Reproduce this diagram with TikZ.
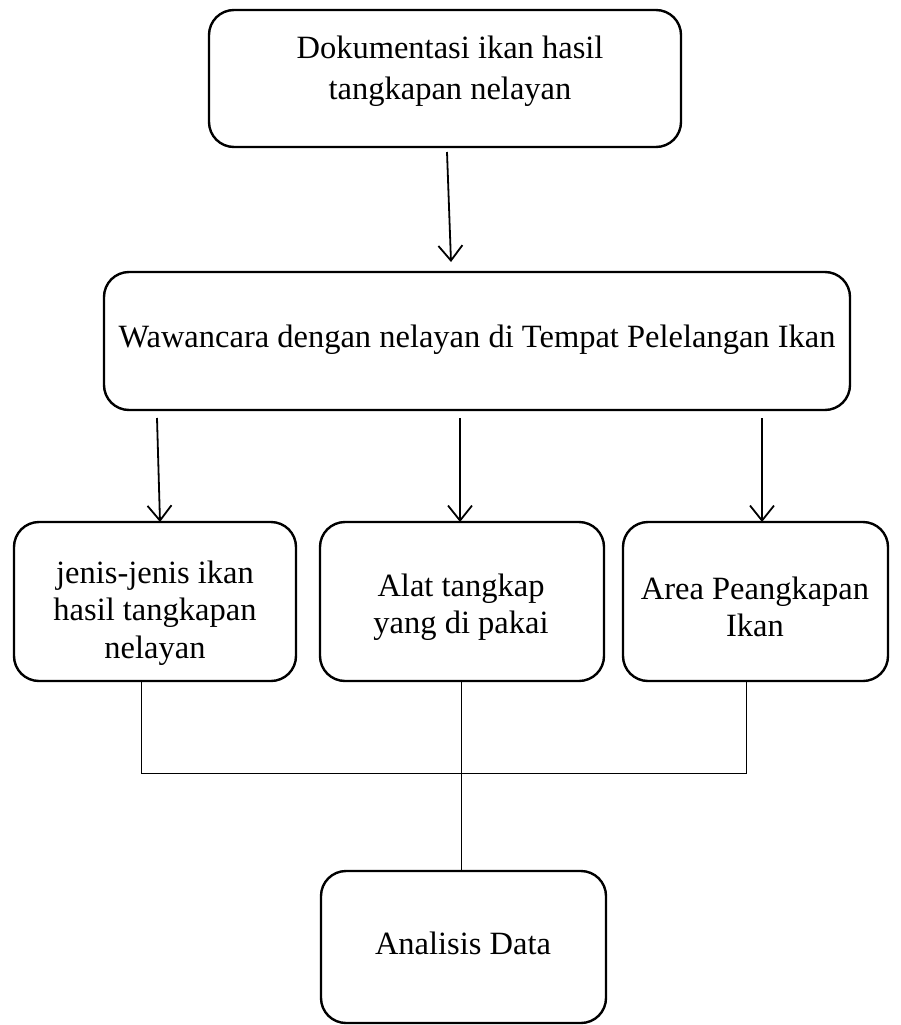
\documentclass[tikz,border=0pt]{standalone}
\usepackage{fontspec}
\setmainfont{Liberation Serif}
\usetikzlibrary{arrows.meta}
\begin{document}
\begin{tikzpicture}[x=1pt,y=-1pt,
  box/.style={draw=black,line width=2.4pt,rounded corners=25pt,inner sep=0pt},
  txt/.style={align=center,font=\fontsize{32.5}{37.5}\selectfont,inner sep=0pt},
  arr/.style={line width=1.8pt,-{Straight Barb[length=15pt,width=24pt,line width=1.8pt]}},
  conn/.style={line width=1pt}]
\useasboundingbox (0,0) rectangle (900,1025);
% boxes
\node[box,minimum width=472pt,minimum height=137pt] (top) at (445,78.5) {};
\node[txt] (toptext) at (450,71) {Dokumentasi ikan hasil\\[3pt]tangkapan nelayan};
\node[box,minimum width=746pt,minimum height=138pt] (mid) at (477,341) {};
\node[txt] (midtext) at (477,340) {Wawancara dengan nelayan di Tempat Pelelangan Ikan};
\node[box,minimum width=282pt,minimum height=159pt] (b1) at (155,601.5) {};
\node[txt] (b1text) at (155,613) {jenis-jenis ikan\\hasil tangkapan\\nelayan};
\node[box,minimum width=284pt,minimum height=159pt] (b2) at (462,601.5) {};
\node[txt] (b2text) at (461,607) {Alat tangkap\\yang di pakai};
\node[box,minimum width=265pt,minimum height=159pt] (b3) at (755.5,601.5) {};
\node[txt] (b3text) at (755,607) {Area Peangkapan\\Ikan};
\node[box,minimum width=285pt,minimum height=152pt] (ana) at (463.5,947) {};
\node[txt] (anatext) at (463,943) {Analisis Data};
% coordinates
\coordinate (a1s) at (447,152);
\coordinate (a1e) at (451,262);
\coordinate (m1) at (157,418);
\coordinate (m1e) at (160,522);
\coordinate (m2) at (460,418);
\coordinate (m2e) at (460,522);
\coordinate (m3) at (762,418);
\coordinate (m3e) at (762,522);
\coordinate (j1) at (141,773);
\coordinate (j3) at (746,773);
% arrows
\draw[arr] (a1s) -- (a1e);
\draw[arr] (m1) -- (m1e);
\draw[arr] (m2) -- (m2e);
\draw[arr] (m3) -- (m3e);
% connectors
\draw[conn] (b1.south -| j1) -- (j1) -- (j3) -- (b3.south -| j3);
\draw[conn] (b2.south -| 461,0) -- (ana.north -| 461,0);
\end{tikzpicture}
\end{document}
